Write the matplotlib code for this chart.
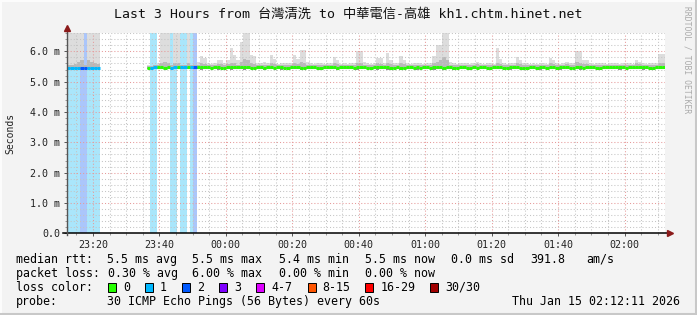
import numpy as np
import matplotlib
matplotlib.use("Agg")
import matplotlib.pyplot as plt
from matplotlib.lines import Line2D
from matplotlib.patches import Rectangle

nan = float("nan")

# time axis: minutes since midnight, one sample per minute, 23:12:11 -> 02:12:11
t_start = 23 * 60 + 12 + 11 / 60
n_samples = 180

# lost pings per sample (out of 30)
loss = [1, 1, 1, 1, 2, 2, 1, 1, 1, 1] + [nan] * 14 + \
    [0, 1, 1, 0, 0, 0, 0, 1, 1, 0, 1, 1, 0, 1, 2] + [0] * 141

median = [5.46] * 10 + [nan] * 14 + [
    5.46, 5.46, 5.47, 5.47, 5.47, 5.46, 5.47, 5.46, 5.47, 5.47,
    5.48, 5.47, 5.48, 5.47, 5.47, 5.48, 5.48, 5.47, 5.47, 5.46,
    5.47, 5.47, 5.46, 5.46, 5.47, 5.47, 5.47, 5.48, 5.48, 5.48,
    5.47, 5.46, 5.46, 5.47, 5.47, 5.46, 5.47, 5.47, 5.46, 5.47,
    5.47, 5.46, 5.46, 5.47, 5.47, 5.47, 5.46, 5.46, 5.47, 5.47,
    5.47, 5.46, 5.46, 5.47, 5.47, 5.47, 5.47, 5.46, 5.47, 5.47,
    5.47, 5.47, 5.46, 5.47, 5.47, 5.47, 5.46, 5.46, 5.47, 5.47,
    5.47, 5.47, 5.47, 5.44, 5.46, 5.47, 5.46, 5.46, 5.47, 5.47,
    5.46, 5.47, 5.46, 5.47, 5.47, 5.46, 5.47, 5.47, 5.47, 5.46,
    5.47, 5.47, 5.44, 5.46, 5.47, 5.47, 5.46, 5.46, 5.47, 5.46,
    5.47, 5.47, 5.46, 5.46, 5.47, 5.47, 5.47, 5.46, 5.46, 5.47,
    5.47, 5.47, 5.46, 5.44, 5.46, 5.47, 5.47, 5.46, 5.47, 5.47,
    5.46, 5.47, 5.47, 5.46, 5.47, 5.47, 5.47, 5.46, 5.46, 5.47,
    5.47, 5.46, 5.47, 5.47, 5.47, 5.46, 5.46, 5.47, 5.47, 5.47,
    5.47, 5.48, 5.47, 5.47, 5.46, 5.47, 5.47, 5.47, 5.47, 5.48,
    5.47, 5.46, 5.44, 5.47, 5.47, 5.47]

smoke_max = [7.0, 7.0, 7.0, 7.0, 7.0, 5.52, 7.0, 7.0, 7.0, 7.0] + [nan] * 14 + [
    5.55, 5.52, 5.52, 5.62, 7.0, 7.0, 7.0, 5.55, 7.0, 7.0, 5.55, 5.55, 7.0, 5.55, 5.55,
    5.65, 5.83, 5.78, 5.6, 5.58, 5.62, 5.72, 5.72, 5.6, 5.7, 6.1,
    5.88, 5.7, 6.3, 7.0, 7.0, 5.88, 5.84, 5.6, 5.6, 5.66,
    5.6, 5.88, 5.75, 5.58, 5.6, 5.62, 5.62, 5.6, 5.88, 5.75,
    6.05, 6.05, 5.65, 5.6, 5.58, 5.6, 5.6, 5.58, 5.62, 5.6,
    5.8, 5.7, 5.58, 5.6, 5.58, 5.6, 5.62, 6.0, 6.0, 5.65,
    5.6, 5.58, 5.62, 5.77, 5.77, 5.6, 5.94, 5.7, 5.6, 5.62,
    5.83, 5.7, 5.6, 5.58, 5.6, 5.62, 5.6, 5.58, 5.6, 5.62,
    5.83, 6.2, 6.2, 7.0, 7.0, 5.65, 5.6, 5.58, 5.6, 5.62,
    5.6, 5.58, 5.6, 5.65, 5.6, 5.58, 5.62, 5.6, 5.58, 6.1,
    5.75, 5.6, 5.58, 5.6, 5.62, 5.8, 5.7, 5.6, 5.62, 5.58,
    5.6, 5.58, 5.6, 5.62, 5.58, 5.77, 5.7, 5.6, 5.58, 5.6,
    5.66, 5.6, 5.62, 6.0, 6.0, 5.72, 5.72, 5.6, 5.58, 5.6,
    5.62, 5.6, 5.58, 5.6, 5.62, 5.6, 5.58, 5.6, 5.62, 5.6,
    5.58, 5.72, 5.65, 5.6, 5.58, 5.6, 5.62, 5.6, 5.9, 5.9]

smoke_hi = [5.55, 5.56, 5.58, 5.66, 5.7, 5.55, 5.7, 5.66, 5.62, 5.58] + [nan] * 14 + [
    5.52, 5.53, 5.54, 5.56, 5.62, 5.66, 5.6, 5.54, 5.62, 5.6, 5.54, 5.55, 5.62, 5.54, 5.54,
    5.56, 5.6, 5.58, 5.54, 5.54, 5.55, 5.58, 5.58, 5.55, 5.58, 5.62,
    5.6, 5.56, 5.66, 5.75, 5.7, 5.6, 5.58, 5.55, 5.54, 5.56,
    5.55, 5.62, 5.58, 5.54, 5.55, 5.56, 5.55, 5.54, 5.6, 5.58,
    5.64, 5.62, 5.56, 5.55, 5.54, 5.55, 5.55, 5.54, 5.56, 5.55,
    5.6, 5.58, 5.54, 5.55, 5.54, 5.55, 5.56, 5.62, 5.6, 5.56,
    5.55, 5.54, 5.55, 5.6, 5.58, 5.55, 5.62, 5.58, 5.55, 5.56,
    5.6, 5.58, 5.55, 5.54, 5.55, 5.56, 5.55, 5.54, 5.55, 5.56,
    5.6, 5.66, 5.7, 5.8, 5.72, 5.56, 5.55, 5.54, 5.55, 5.56,
    5.55, 5.54, 5.55, 5.58, 5.55, 5.54, 5.56, 5.55, 5.54, 5.62,
    5.58, 5.55, 5.54, 5.55, 5.56, 5.6, 5.58, 5.55, 5.56, 5.54,
    5.55, 5.54, 5.55, 5.56, 5.54, 5.6, 5.58, 5.55, 5.54, 5.55,
    5.58, 5.55, 5.56, 5.64, 5.62, 5.58, 5.58, 5.55, 5.54, 5.55,
    5.56, 5.55, 5.54, 5.55, 5.56, 5.55, 5.54, 5.55, 5.56, 5.55,
    5.54, 5.6, 5.57, 5.55, 5.54, 5.55, 5.56, 5.55, 5.62, 5.6]

smoke_lo = [5.41] * 10 + [nan] * 14 + [
    5.42, 5.41, 5.41, 5.42, 5.41, 5.41, 5.42, 5.41, 5.41, 5.42, 5.41, 5.42, 5.41, 5.41, 5.42,
    5.41, 5.4, 5.41, 5.42, 5.41, 5.41, 5.4, 5.41, 5.42, 5.41, 5.4,
    5.41, 5.42, 5.41, 5.4, 5.41, 5.41, 5.42, 5.41, 5.41, 5.4,
    5.41, 5.41, 5.42, 5.41, 5.4, 5.41, 5.41, 5.42, 5.41, 5.41,
    5.4, 5.41, 5.41, 5.42, 5.41, 5.41, 5.4, 5.41, 5.41, 5.42,
    5.41, 5.4, 5.41, 5.41, 5.42, 5.41, 5.41, 5.4, 5.41, 5.41,
    5.42, 5.41, 5.41, 5.4, 5.41, 5.41, 5.38, 5.4, 5.41, 5.41,
    5.4, 5.41, 5.42, 5.41, 5.41, 5.4, 5.41, 5.42, 5.41, 5.41,
    5.4, 5.41, 5.41, 5.4, 5.41, 5.41, 5.38, 5.41, 5.42, 5.41,
    5.41, 5.4, 5.41, 5.41, 5.42, 5.41, 5.41, 5.4, 5.41, 5.41,
    5.42, 5.41, 5.41, 5.4, 5.41, 5.41, 5.41, 5.38, 5.41, 5.42,
    5.41, 5.41, 5.4, 5.41, 5.41, 5.42, 5.41, 5.41, 5.4, 5.41,
    5.41, 5.42, 5.41, 5.41, 5.4, 5.41, 5.41, 5.41, 5.42, 5.41,
    5.4, 5.41, 5.41, 5.42, 5.41, 5.41, 5.4, 5.41, 5.41, 5.41,
    5.42, 5.41, 5.41, 5.4, 5.41, 5.41, 5.38, 5.41, 5.41, 5.41]

x_ticklabels = ["23:20", "23:40", "00:00", "00:20", "00:40", "01:00", "01:20", "01:40", "02:00"]
y_ticklabels = ["0.0", "1.0 m", "2.0 m", "3.0 m", "4.0 m", "5.0 m", "6.0 m"]

loss_labels = ["0", "1", "2", "3", "4-7", "8-15", "16-29", "30/30"]
loss_colors = ["#26ff00", "#00b8ff", "#0059ff", "#7e00ff", "#dd00ff", "#ff5500", "#ff0000", "#a10000"]
loss_bg = {1: "#aae6fb", 2: "#abc6fb"}

title = "Last 3 Hours from 台灣清洗 to 中華電信-高雄 kh1.chtm.hinet.net"
stats_rtt = ["5.5 ms avg", "5.5 ms max", "5.4 ms min", "5.5 ms now", "0.0 ms sd", "391.8", "am/s"]
stats_loss = ["0.30 % avg", "6.00 % max", "0.00 % min", "0.00 % now"]
probe_text = "30 ICMP Echo Pings (56 Bytes) every 60s"
stamp_text = "Thu Jan 15 02:12:11 2026"

mono = ["DejaVu Sans Mono", "Noto Sans CJK TC"]
W, H = 697, 315
ymax = 6.62

t = t_start + np.arange(n_samples)
loss = np.array(loss, dtype=float)
median = np.array(median)
smoke_max = np.array(smoke_max)
smoke_hi = np.array(smoke_hi)
smoke_lo = np.array(smoke_lo)

fig = plt.figure(figsize=(W / 100, H / 100), dpi=100, facecolor="#f3f3f3")
ax = fig.add_axes([67 / W, 1 - 233.3 / H, (665 - 67) / W, (233.3 - 32.5) / H])
ax.set_facecolor("white")

# loss background stripes
for lv, col in loss_bg.items():
    m = loss == lv
    ax.bar(t[m], ymax, width=1, align="edge", color=col, linewidth=0, antialiased=False, zorder=1)

# smoke
top = np.minimum(smoke_max, ymax)
ax.bar(t, top - smoke_lo, bottom=smoke_lo, width=1, align="edge", color="#dddddd",
       linewidth=0, antialiased=False, zorder=1.2)
ax.bar(t, smoke_hi - smoke_lo, bottom=smoke_lo, width=1, align="edge", color="#b9b9b9",
       linewidth=0, antialiased=False, zorder=1.3)
ax.bar(t, median - smoke_lo, bottom=smoke_lo, width=1, align="edge", color="#8e8e8e",
       linewidth=0, antialiased=False, zorder=1.4)

# median line coloured by loss
ok = ~np.isnan(median)
seg_cols = [loss_colors[int(v)] for v in loss[ok]]
ax.hlines(median[ok], t[ok], t[ok] + 1, colors=seg_cols, linewidth=2.2, zorder=3)

ax.set_xlim(t_start, t_start + n_samples)
ax.set_ylim(0, ymax)

first_tick = 23 * 60 + 20
ax.set_xticks(first_tick + 20 * np.arange(len(x_ticklabels)))
ax.set_xticklabels(x_ticklabels)
ax.set_xticks(np.arange(23 * 60 + 15, t_start + n_samples, 5), minor=True)
ax.set_yticks(np.arange(len(y_ticklabels)))
ax.set_yticklabels(y_ticklabels)
ax.set_yticks(np.arange(0, ymax, 0.2), minor=True)

for lab in ax.get_xticklabels() + ax.get_yticklabels():
    lab.set_family(mono)
    lab.set_fontsize(7.2)
    lab.set_color("#222222")

ax.tick_params(which="major", length=2, width=0.7, color="#555555", pad=3)
ax.tick_params(which="minor", length=1.5, width=0.7, color="#999999")
ax.tick_params(axis="x", which="major", pad=3)

ax.set_axisbelow(False)
ax.grid(which="minor", color="#c4c4c4", linestyle=(0, (1, 2)), linewidth=0.75)
ax.grid(which="major", color="#e69a9a", linestyle=(0, (1, 2)), linewidth=0.75)

for s in ax.spines.values():
    s.set_visible(False)

# axes with arrows
ax.plot([-0.006, 1.008], [0, 0], transform=ax.transAxes, color="black", lw=1.1, clip_on=False, zorder=4)
ax.plot([1.009], [0], marker=">", ms=4, color="#8b1a1a", transform=ax.transAxes, clip_on=False, zorder=4)
ax.plot([0, 0], [-0.01, 1.01], transform=ax.transAxes, color="#555555", lw=1.0, clip_on=False, zorder=4)
ax.plot([0], [1.02], marker="^", ms=4, color="#8b1a1a", transform=ax.transAxes, clip_on=False, zorder=4)


def px(x, y):
    return x / W, 1 - y / H


fig.text(*px(348, 14), title, ha="center", va="center", fontsize=9.5, family=mono, color="#111111")
fig.text(*px(10, 133), "Seconds", rotation=90, ha="center", va="center", fontsize=7,
         family=mono, color="#222222")
fig.text(*px(687, 60), "RRDTOOL / TOBI OETIKER", rotation=270, ha="center", va="center",
         fontsize=5.8, family=mono, color="#aaaaaa")

fs = 8.4
rows = [259.5, 273.5, 287.5, 301.5]
fig.text(*px(15.5, rows[0]), "median rtt:", fontsize=fs, family=mono, va="center")
for x, s in zip([106.7, 192.4, 279, 365.3, 451, 530, 585.8], stats_rtt):
    fig.text(*px(x, rows[0]), s, fontsize=fs, family=mono, va="center")
fig.text(*px(15.5, rows[1]), "packet loss:", fontsize=fs, family=mono, va="center")
for x, s in zip([107.5, 192.4, 279, 365.3], stats_loss):
    fig.text(*px(x, rows[1]), s, fontsize=fs, family=mono, va="center")
fig.text(*px(15.5, rows[2]), "loss color:", fontsize=fs, family=mono, va="center")
sw_x = [108, 145, 182, 219, 256.4, 307.6, 365.3, 430]
for x, col, lab in zip(sw_x, loss_colors, loss_labels):
    x0, y0 = px(x, rows[2] + 4.5)
    fig.add_artist(Rectangle((x0, y0), 8 / W, 9 / H, transform=fig.transFigure,
                             facecolor=col, edgecolor="black", linewidth=0.7))
    fig.text(*px(x + 15, rows[2]), lab, fontsize=fs, family=mono, va="center")
fig.text(*px(15.5, rows[3]), "probe:", fontsize=fs, family=mono, va="center")
fig.text(*px(106.7, rows[3]), probe_text, fontsize=fs, family=mono, va="center")
fig.text(*px(680, rows[3]), stamp_text, fontsize=fs, family=mono, va="center", ha="right")

# shaded frame
fig.add_artist(Line2D([0, 1], [1 - 1 / H, 1 - 1 / H], transform=fig.transFigure, color="#fcfcfc", lw=1.5))
fig.add_artist(Line2D([1 / W, 1 / W], [0, 1], transform=fig.transFigure, color="#fcfcfc", lw=1.5))
fig.add_artist(Line2D([0, 1], [1.5 / H, 1.5 / H], transform=fig.transFigure, color="#c8c8c8", lw=2.2))
fig.add_artist(Line2D([1 - 1.5 / W, 1 - 1.5 / W], [0, 1], transform=fig.transFigure, color="#c8c8c8", lw=2.2))

fig.savefig("out.png", dpi=100, facecolor=fig.get_facecolor())
